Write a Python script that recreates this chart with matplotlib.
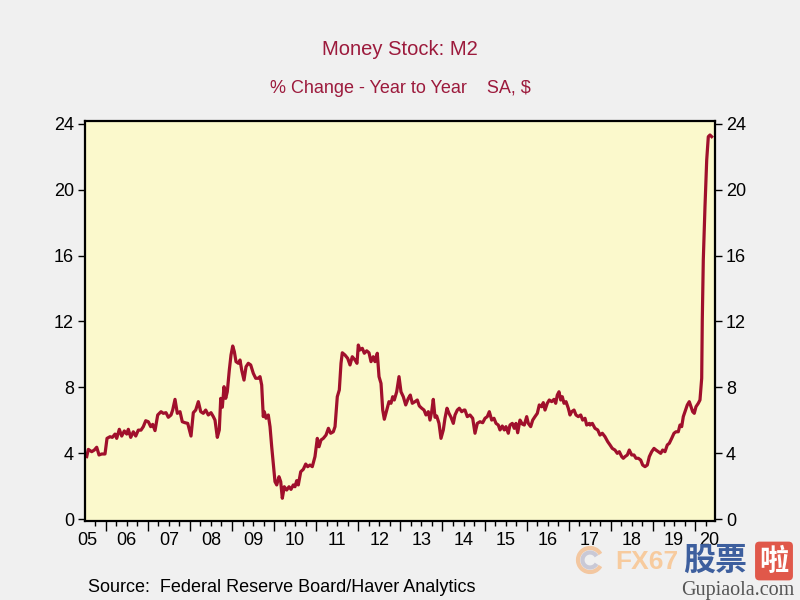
import matplotlib
matplotlib.use('Agg')
import matplotlib.pyplot as plt
from matplotlib.patches import Arc
from matplotlib.transforms import IdentityTransform

plt.rcParams['font.family'] = ['Liberation Sans', 'DejaVu Sans']

""" Datos: M2, % cambio interanual (fecha en anios decimales) """
fechas = [
    2005.549, 2005.587, 2005.667, 2005.729, 2005.786, 2005.841, 2005.905, 2005.983,
    2006.031, 2006.102, 2006.157, 2006.221, 2006.261, 2006.323, 2006.380, 2006.442,
    2006.499, 2006.537, 2006.594, 2006.656, 2006.713, 2006.774, 2006.838, 2006.893,
    2006.950, 2007.012, 2007.069, 2007.116, 2007.171, 2007.235, 2007.314, 2007.368,
    2007.432, 2007.487, 2007.551, 2007.591, 2007.646, 2007.701, 2007.765, 2007.819,
    2007.884, 2007.948, 2008.026, 2008.081, 2008.138, 2008.200, 2008.257, 2008.318,
    2008.375, 2008.437, 2008.501, 2008.556,
    2008.596, 2008.651, 2008.698, 2008.732, 2008.770, 2008.810, 2008.850, 2008.888,
    2008.936, 2008.976, 2009.017, 2009.055, 2009.095, 2009.150, 2009.190, 2009.230,
    2009.285, 2009.333, 2009.387, 2009.444, 2009.506, 2009.563, 2009.625, 2009.665,
    2009.705, 2009.743, 2009.767, 2009.808, 2009.862, 2009.903, 2009.943, 2009.981,
    2010.021, 2010.062, 2010.116, 2010.157, 2010.195, 2010.242, 2010.299, 2010.354,
    2010.401, 2010.456, 2010.496, 2010.537, 2010.575, 2010.632, 2010.694, 2010.751,
    2010.798, 2010.853, 2010.907, 2010.971, 2011.026, 2011.067, 2011.114, 2011.169,
    2011.233, 2011.290, 2011.344, 2011.406, 2011.447, 2011.501, 2011.549,
    2011.589, 2011.620, 2011.684, 2011.748, 2011.803, 2011.857, 2011.922, 2011.969,
    2012.000, 2012.040, 2012.095, 2012.143, 2012.200, 2012.254, 2012.302, 2012.356,
    2012.397, 2012.451, 2012.492, 2012.539, 2012.580, 2012.618, 2012.675, 2012.729,
    2012.777, 2012.817, 2012.855, 2012.912, 2012.967, 2013.014, 2013.069, 2013.126,
    2013.188, 2013.235, 2013.283, 2013.347, 2013.401, 2013.449, 2013.506, 2013.561,
    2013.608, 2013.663, 2013.703, 2013.743, 2013.781, 2013.822, 2013.862, 2013.917,
    2013.964, 2014.019, 2014.059, 2014.107, 2014.154, 2014.202, 2014.257, 2014.297,
    2014.352, 2014.399, 2014.456, 2014.511,
    2014.534, 2014.589, 2014.653, 2014.717, 2014.772, 2014.827, 2014.891, 2014.955,
    2015.010, 2015.064, 2015.112, 2015.169, 2015.223, 2015.271, 2015.325, 2015.366,
    2015.420, 2015.468, 2015.508, 2015.563, 2015.603, 2015.658, 2015.705, 2015.746,
    2015.786, 2015.841, 2015.895, 2015.943, 2016.000, 2016.038, 2016.095, 2016.143,
    2016.197, 2016.252, 2016.299, 2016.356, 2016.394, 2016.435, 2016.489, 2016.537,
    2016.594, 2016.648, 2016.689, 2016.727, 2016.767, 2016.808, 2016.846, 2016.886,
    2016.934, 2016.988, 2017.029, 2017.069, 2017.124, 2017.171, 2017.226, 2017.283,
    2017.330, 2017.385, 2017.425, 2017.487,
    2017.504, 2017.559, 2017.622, 2017.687, 2017.741, 2017.796, 2017.860, 2017.924,
    2017.979, 2018.033, 2018.097, 2018.152, 2018.200, 2018.257, 2018.295, 2018.335,
    2018.390, 2018.437, 2018.494, 2018.549, 2018.596, 2018.651, 2018.708, 2018.755,
    2018.810, 2018.865, 2018.913, 2018.969, 2019.024, 2019.071, 2019.126, 2019.183,
    2019.230, 2019.285, 2019.340, 2019.387, 2019.444, 2019.499, 2019.546, 2019.601,
    2019.641, 2019.682, 2019.720, 2019.760, 2019.815, 2019.862, 2019.903, 2019.943,
    2019.981, 2020.021, 2020.076, 2020.116, 2020.157, 2020.171, 2020.195, 2020.235,
    2020.276, 2020.314, 2020.354, 2020.394,
]
m2_yoy = [
    3.79, 4.23, 4.09, 4.19, 4.36, 3.89, 3.95, 3.95,
    4.90, 5.00, 4.96, 5.16, 4.90, 5.45, 5.04, 5.35,
    5.16, 5.45, 4.96, 5.30, 5.04, 5.40, 5.40, 5.61,
    5.97, 5.91, 5.61, 5.75, 5.37, 6.32, 6.52, 6.42,
    6.46, 6.18, 6.32, 6.62, 7.27, 6.42, 6.52, 5.91,
    5.85, 5.81, 5.04, 6.46, 6.62, 7.13, 6.52, 6.42,
    6.62, 6.32, 6.46, 6.22,
    6.01, 4.96, 5.41, 7.33, 6.79, 8.04, 7.33, 7.73,
    9.05, 9.96, 10.51, 10.17, 9.56, 9.46, 9.66, 9.05,
    8.44, 9.25, 9.46, 9.36, 8.85, 8.55, 8.55, 8.65,
    8.14, 6.22, 6.52, 6.12, 6.32, 5.61, 4.39, 3.38,
    2.27, 2.07, 2.57, 2.27, 1.26, 1.96, 1.76, 1.96,
    1.80, 2.07, 1.96, 2.33, 2.07, 2.87, 3.02, 3.34,
    3.18, 3.28, 3.18, 3.79, 4.90, 4.39, 4.80, 4.90,
    5.10, 5.51, 5.21, 5.30, 5.61, 7.43, 7.84,
    9.46, 10.10, 9.96, 9.76, 9.36, 9.86, 9.66, 9.46,
    10.57, 10.27, 10.37, 10.07, 10.22, 10.10, 9.56, 9.86,
    9.56, 10.07, 8.65, 8.24, 6.62, 6.06, 6.62, 7.13,
    7.03, 7.43, 7.23, 7.73, 8.65, 7.73, 7.43, 6.93,
    7.33, 7.53, 7.03, 7.13, 7.23, 6.87, 6.73, 6.62,
    6.32, 6.52, 6.01, 6.52, 7.27, 6.18, 6.26, 5.81,
    4.90, 5.41, 6.12, 6.73, 6.42, 6.18, 5.81, 6.32,
    6.62, 6.73, 6.52, 6.62,
    6.62, 6.22, 6.32, 6.12, 5.21, 5.81, 5.91, 5.85,
    6.12, 6.22, 6.52, 6.01, 6.12, 5.81, 5.71, 5.41,
    5.65, 5.41, 5.61, 5.21, 5.71, 5.81, 5.51, 5.81,
    5.24, 6.01, 5.77, 5.71, 6.22, 5.81, 5.61, 6.01,
    6.22, 6.42, 6.93, 6.82, 7.07, 6.62, 7.03, 7.23,
    7.13, 7.27, 7.03, 7.53, 7.73, 7.23, 7.43, 7.03,
    7.13, 6.73, 6.32, 6.52, 6.62, 6.32, 6.22, 6.32,
    6.01, 6.12, 5.71, 5.81,
    5.71, 5.81, 5.51, 5.41, 5.10, 5.21, 5.00, 4.70,
    4.50, 4.29, 4.19, 3.99, 4.09, 3.79, 3.69, 3.79,
    3.89, 4.19, 3.89, 3.89, 3.69, 3.69, 3.58, 3.28,
    3.18, 3.28, 3.79, 4.09, 4.29, 4.19, 4.09, 3.99,
    4.19, 4.09, 4.50, 4.60, 4.90, 5.21, 5.30, 5.30,
    5.71, 5.61, 6.22, 6.52, 6.93, 7.13, 6.82, 6.52,
    6.42, 6.82, 7.03, 7.23, 8.55, 12.09, 15.74, 18.97,
    21.81, 23.23, 23.33, 23.23,
]

anios = list(range(2005, 2021))
etiquetas = ['%02d' % (a % 100) for a in anios]
y_ticks = [0, 4, 8, 12, 16, 20, 24]

rojo = '#a0102c'
titulo_color = '#9c1a3c'

fig = plt.figure(figsize=(8, 6), dpi=100, facecolor='#f0f0f0')
ax = fig.add_axes([0.10625, 0.1317, 0.7875, 0.6666])
ax.set_facecolor('#fbf9cc')

ax.plot(fechas, m2_yoy, color=rojo, lw=2.3, solid_joinstyle='round')

xmin, xmax = 2005.508, 2020.473
ax.set_xlim(xmin, xmax)
ax.set_ylim(-0.12, 24.18)

""" Ejes """
for s in ax.spines.values():
    s.set_linewidth(1.6)
    s.set_color('black')

ax.set_yticks(y_ticks)
ax.tick_params(axis='y', direction='out', length=5, width=1, labelsize=13,
               left=True, right=True, labelleft=True, labelright=True, pad=3)

ax.set_xticks(anios[1:])
ax.set_xticklabels([])
trimestres = [a + q for a in anios for q in (0.25, 0.5, 0.75) if xmin < a + q < xmax]
ax.set_xticks(trimestres, minor=True)
ax.tick_params(axis='x', which='major', direction='out', length=7, width=1)
ax.tick_params(axis='x', which='minor', direction='out', length=3.5, width=1)

for a, lab in zip(anios, etiquetas):
    pos = min(max(a + 0.5, xmin + 0.05), xmax - 0.13)
    ax.text(pos, -0.027, lab, transform=ax.get_xaxis_transform(),
            ha='center', va='top', fontsize=13)

""" Titulos """
fig.text(0.5, 0.9167, 'Money Stock: M2', ha='center', va='center',
         fontsize=14.5, color=titulo_color)
fig.text(0.5, 0.853, r'% Change - Year to Year    SA, \$', ha='center', va='center',
         fontsize=13, color=titulo_color)
fig.text(88 / 800, 1 - 588 / 600, 'Source:  Federal Reserve Board/Haver Analytics',
         ha='left', va='center', fontsize=13)

""" Marca de agua """
for r, c in ((24, '#f3c7a0'), (15, '#c9c9d6')):
    fig.add_artist(Arc((590, 40), r, r, theta1=30, theta2=330, lw=3,
                       color=c, transform=IdentityTransform()))
fig.text(647 / 800, 1 - 562 / 600, 'FX67', ha='center', va='center',
         fontsize=19, fontweight='bold', color='#f7cb9e')
fig.text(715 / 800, 1 - 561 / 600, '股票', ha='center', va='center',
         fontsize=23, fontweight='bold', color='#3d5f9e',
         family=['Noto Sans CJK SC', 'DejaVu Sans'])
fig.text(774 / 800, 1 - 561 / 600, '啦', ha='center', va='center',
         fontsize=21, fontweight='bold', color='white',
         family=['Noto Sans CJK SC', 'DejaVu Sans'],
         bbox=dict(boxstyle='round,pad=0.15', fc='#e0584a', ec='none'))
fig.text(738 / 800, 1 - 591 / 600, 'Gupiaola.com', ha='center', va='center',
         fontsize=14.5, color='#555555', family=['Liberation Serif', 'DejaVu Serif'])

plt.savefig('out.png', dpi=100, facecolor=fig.get_facecolor())
